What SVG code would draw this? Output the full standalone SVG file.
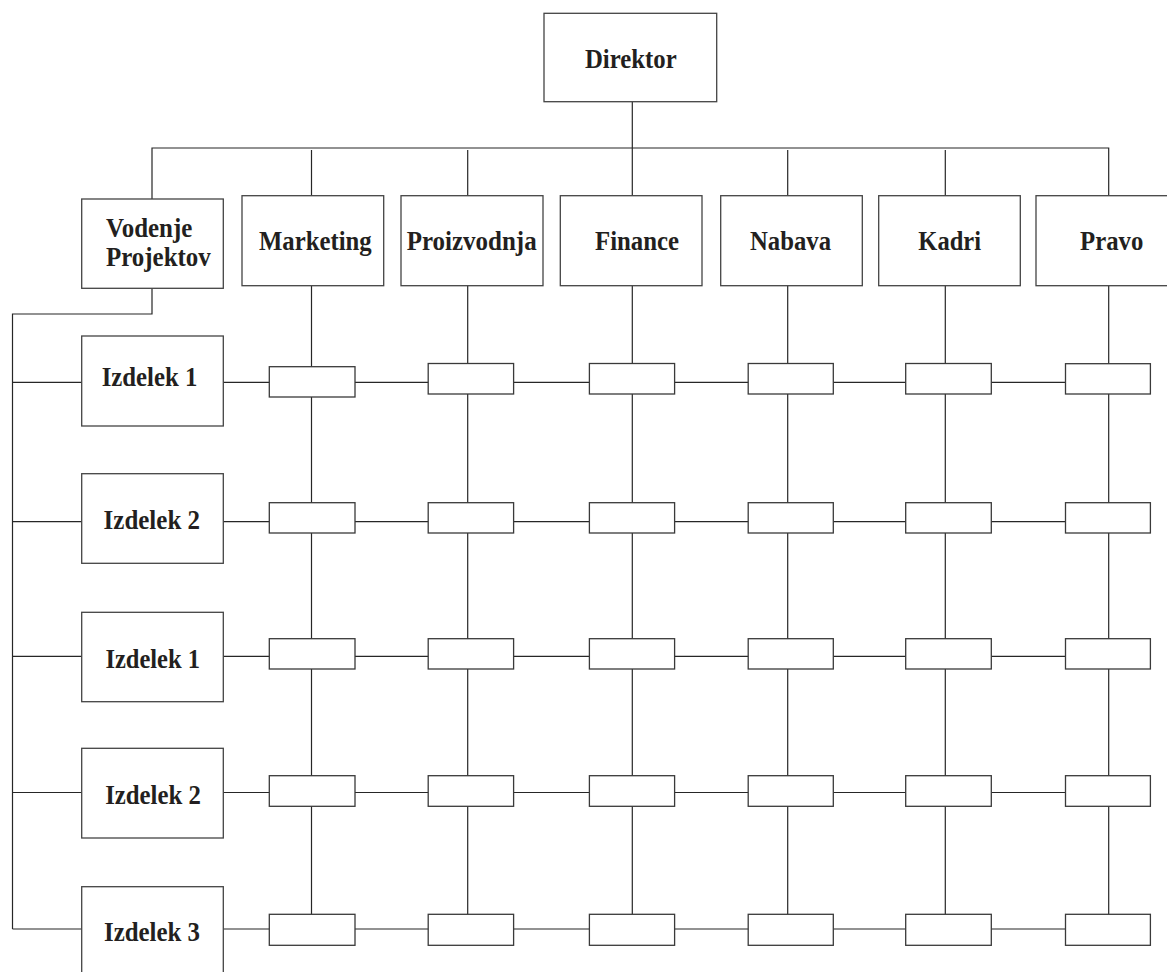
<svg xmlns="http://www.w3.org/2000/svg" width="1167" height="972" viewBox="0 0 1167 972">
  <style>
    .box { fill: #ffffff; stroke: #444444; stroke-width: 1.3; }
    .cell { fill: #ffffff; stroke: #3a3a3a; stroke-width: 1.3; }
    .wire { fill: none; stroke: #262626; stroke-width: 1.2; }
    .lbl { font-family: "Liberation Serif", "Times New Roman", serif; font-weight: bold; font-size: 26.5px; fill: #231f20; text-anchor: middle; }
    .lbl-l { font-family: "Liberation Serif", "Times New Roman", serif; font-weight: bold; font-size: 26.5px; fill: #231f20; }
  </style>
  <rect width="1167" height="972" fill="#ffffff"/>

  <!-- connectors: top bus, drops, column lines, row lines -->
  <g id="connectors" class="wire">
    <path d="M632.3 101.7 V195.7"/>
    <path d="M152 199 V148 H1108.7 V195.7"/>
    <path d="M311.5 150 V195.7"/>
    <path d="M467.7 150 V195.7"/>
    <path d="M787.7 150 V195.7"/>
    <path d="M945.3 150 V195.7"/>
    <!-- project management branch to the product rows -->
    <path d="M152 288.3 V314 H12.5 V929"/>
    <!-- department columns -->
    <path d="M311.5 285.7 V914.3"/>
    <path d="M467.7 285.7 V914.3"/>
    <path d="M632.3 285.7 V914.3"/>
    <path d="M787.7 285.7 V914.3"/>
    <path d="M945.3 285.7 V914.3"/>
    <path d="M1108.7 285.7 V914.3"/>
    <!-- product rows -->
    <path d="M12.5 382.3 H1065.5"/>
    <path d="M12.5 521.7 H1065.5"/>
    <path d="M12.5 656.3 H1065.5"/>
    <path d="M12.5 792.5 H1065.5"/>
    <path d="M12.5 929 H1065.5"/>
  </g>

  <g id="direktor">
    <rect class="box" x="544" y="13.3" width="172.7" height="88.4"/>
    <text class="lbl" x="630.8" y="67.7" textLength="91.7" lengthAdjust="spacingAndGlyphs">Direktor</text>
  </g>

  <g id="vodenje-projektov">
    <rect class="box" x="81.7" y="199" width="141.6" height="89.3"/>
    <text class="lbl-l" x="106" y="237" textLength="86.3" lengthAdjust="spacingAndGlyphs">Vodenje</text>
    <text class="lbl-l" x="106" y="266" textLength="104.7" lengthAdjust="spacingAndGlyphs">Projektov</text>
  </g>
  <g id="marketing">
    <rect class="box" x="242" y="195.7" width="141.7" height="90"/>
    <text class="lbl" x="315.3" y="250" textLength="112.7" lengthAdjust="spacingAndGlyphs">Marketing</text>
  </g>
  <g id="proizvodnja">
    <rect class="box" x="401" y="195.7" width="142" height="90"/>
    <text class="lbl" x="471.7" y="250" textLength="130" lengthAdjust="spacingAndGlyphs">Proizvodnja</text>
  </g>
  <g id="finance">
    <rect class="box" x="560.3" y="195.7" width="141.7" height="90"/>
    <text class="lbl" x="637" y="250" textLength="84" lengthAdjust="spacingAndGlyphs">Finance</text>
  </g>
  <g id="nabava">
    <rect class="box" x="720.7" y="195.7" width="141.6" height="90"/>
    <text class="lbl" x="790.5" y="250" textLength="81" lengthAdjust="spacingAndGlyphs">Nabava</text>
  </g>
  <g id="kadri">
    <rect class="box" x="878.7" y="195.7" width="141.6" height="90"/>
    <text class="lbl" x="949.7" y="250" textLength="62.7" lengthAdjust="spacingAndGlyphs">Kadri</text>
  </g>
  <g id="pravo">
    <rect class="box" x="1036" y="195.7" width="140" height="90"/>
    <text class="lbl" x="1111.7" y="250" textLength="63.3" lengthAdjust="spacingAndGlyphs">Pravo</text>
  </g>

  <g id="izdelek-1a">
    <rect class="box" x="81.7" y="336" width="141.6" height="90"/>
    <text class="lbl" x="149.5" y="386" textLength="95.6" lengthAdjust="spacingAndGlyphs">Izdelek 1</text>
  </g>
  <g id="izdelek-2a">
    <rect class="box" x="81.7" y="473.7" width="141.6" height="89.6"/>
    <text class="lbl" x="151.8" y="529" textLength="96.4" lengthAdjust="spacingAndGlyphs">Izdelek 2</text>
  </g>
  <g id="izdelek-1b">
    <rect class="box" x="81.7" y="612.3" width="141.6" height="89.4"/>
    <text class="lbl" x="152.7" y="667.7" textLength="94.6" lengthAdjust="spacingAndGlyphs">Izdelek 1</text>
  </g>
  <g id="izdelek-2b">
    <rect class="box" x="81.7" y="748.3" width="141.6" height="89.7"/>
    <text class="lbl" x="153" y="804.3" textLength="95.7" lengthAdjust="spacingAndGlyphs">Izdelek 2</text>
  </g>
  <g id="izdelek-3">
    <rect class="box" x="81.7" y="886.7" width="141.6" height="100"/>
    <text class="lbl" x="152" y="940.7" textLength="96" lengthAdjust="spacingAndGlyphs">Izdelek 3</text>
  </g>

  <!-- matrix cells: one per product row and department -->
  <g id="cells-row1">
    <rect class="cell" x="269.3" y="366.7" width="85.7" height="30.3"/>
    <rect class="cell" x="428.2" y="363.5" width="85.4" height="30.5"/>
    <rect class="cell" x="589.4" y="363.5" width="85.2" height="30.5"/>
    <rect class="cell" x="748.2" y="363.5" width="85.1" height="30.5"/>
    <rect class="cell" x="905.7" y="363.5" width="85.6" height="30.5"/>
    <rect class="cell" x="1065.5" y="363.7" width="84.9" height="30.3"/>
  </g>
  <g id="cells-row2">
    <rect class="cell" x="269.3" y="502.7" width="85.7" height="30.3"/>
    <rect class="cell" x="428.2" y="502.7" width="85.4" height="30.3"/>
    <rect class="cell" x="589.4" y="502.7" width="85.2" height="30.3"/>
    <rect class="cell" x="748.2" y="502.7" width="85.1" height="30.3"/>
    <rect class="cell" x="905.7" y="502.7" width="85.6" height="30.3"/>
    <rect class="cell" x="1065.5" y="502.7" width="84.9" height="30.3"/>
  </g>
  <g id="cells-row3">
    <rect class="cell" x="269.3" y="638.7" width="85.7" height="30.3"/>
    <rect class="cell" x="428.2" y="638.7" width="85.4" height="30.3"/>
    <rect class="cell" x="589.4" y="638.7" width="85.2" height="30.3"/>
    <rect class="cell" x="748.2" y="638.7" width="85.1" height="30.3"/>
    <rect class="cell" x="905.7" y="638.7" width="85.6" height="30.3"/>
    <rect class="cell" x="1065.5" y="638.7" width="84.9" height="30.3"/>
  </g>
  <g id="cells-row4">
    <rect class="cell" x="269.3" y="775.7" width="85.7" height="30.6"/>
    <rect class="cell" x="428.2" y="775.7" width="85.4" height="30.6"/>
    <rect class="cell" x="589.4" y="775.7" width="85.2" height="30.6"/>
    <rect class="cell" x="748.2" y="775.7" width="85.1" height="30.6"/>
    <rect class="cell" x="905.7" y="775.7" width="85.6" height="30.6"/>
    <rect class="cell" x="1065.5" y="775.7" width="84.9" height="30.6"/>
  </g>
  <g id="cells-row5">
    <rect class="cell" x="269.3" y="914.3" width="85.7" height="31"/>
    <rect class="cell" x="428.2" y="914.3" width="85.4" height="31"/>
    <rect class="cell" x="589.4" y="914.3" width="85.2" height="31"/>
    <rect class="cell" x="748.2" y="914.3" width="85.1" height="31"/>
    <rect class="cell" x="905.7" y="914.3" width="85.6" height="31"/>
    <rect class="cell" x="1065.5" y="914.3" width="84.9" height="31"/>
  </g>
</svg>
